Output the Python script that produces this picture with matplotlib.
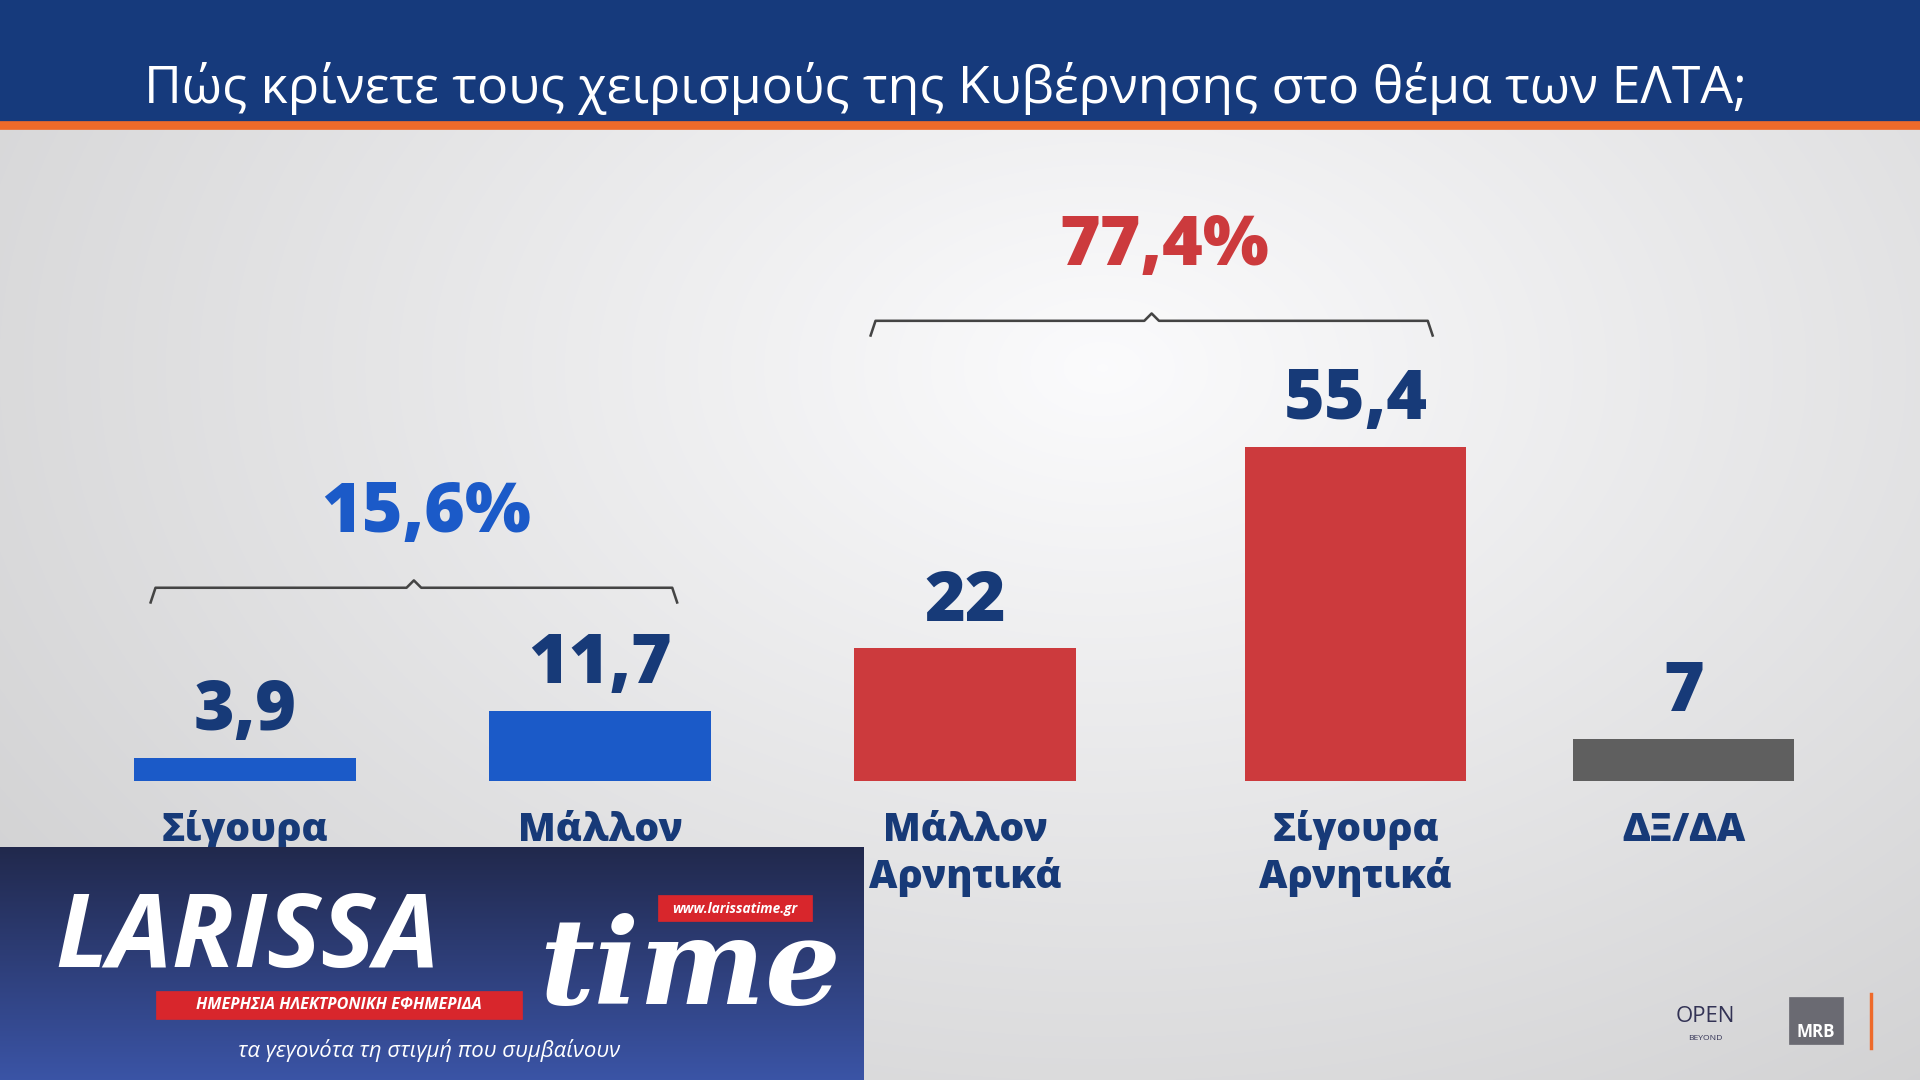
import numpy as np
import matplotlib.pyplot as plt
from matplotlib.patches import Rectangle

categories = [["Σίγουρα"], ["Μάλλον"], ["Μάλλον", "Αρνητικά"], ["Σίγουρα", "Αρνητικά"], ["ΔΞ/ΔΑ"]]
values = [3.9, 11.7, 22, 55.4, 7]
value_labels = ["3,9", "11,7", "22", "55,4", "7"]
colors = ["#1b5ac8", "#1b5ac8", "#cc3a3d", "#cc3a3d", "#5f5f5f"]
centers = [200, 490, 788, 1107, 1375]
groups = [("15,6%", 0, 1, "#1b5ac8", 480), ("77,4%", 2, 3, "#cc3a3d", 262)]
title = "Πώς κρίνετε τους χειρισμούς της Κυβέρνησης στο θέμα των ΕΛΤΑ;"

W, H = 1568, 882
dpi = 1920 / 15.68
fig = plt.figure(figsize=(15.68, 8.82), dpi=dpi)
plt.rcParams['font.family'] = ['Open Sans', 'DejaVu Sans']

# background
bg = fig.add_axes([0, 0, 1, 1])
yy, xx = np.mgrid[0:H, 0:W]
r = np.sqrt(((xx - 900) / 900) ** 2 + ((yy - 300) / 600) ** 2)
shade = np.clip(0.985 - 0.13 * r, 0.8, 0.985)
bg.imshow(np.dstack([shade, shade, shade + 0.005]).clip(0, 1), extent=[0, W, H, 0], aspect='auto')
bg.set_xlim(0, W); bg.set_ylim(H, 0); bg.axis('off')
bg.add_patch(Rectangle((0, 0), W, 100, color="#163a7c"))
bg.add_patch(Rectangle((0, 100), W, 5, color="#ee6a2a"))
bg.text(W / 2 - 12, 84, title, color="white", fontsize=30.5, ha='center', va='baseline')

# bars in value units, baseline at y=638 px
px_per_unit = 4.93
base, top = 638, 110
ax = fig.add_axes([0, 1 - base / H, 1, (base - top) / H])
ax.set_xlim(0, W)
ax.set_ylim(0, (base - top) / px_per_unit)
ax.axis('off')
ax.bar(centers, values, width=181, color=colors)
for c, v, lab in zip(centers, values, value_labels):
    ax.text(c, v + 1.8, lab, color="#173a78", fontsize=41, fontweight='heavy', ha='center', va='bottom')

for c, lines in zip(centers, categories):
    for k, line in enumerate(lines):
        bg.text(c, 678 + 38 * k, line, color="#173a78", fontsize=23, fontweight='heavy', ha='center', va='center')

# braces
for lab, i0, i1, col, y in groups:
    x0, x1 = centers[i0] - 77, centers[i1] + 63
    xm = (x0 + x1) / 2
    bg.plot([x0, x0 + 4, xm - 6, xm, xm + 6, x1 - 4, x1],
            [y + 12, y, y, y - 6, y, y, y + 12], color="#444444", lw=1.5)
    bg.text(xm + 10, y - 60, lab, color=col, fontsize=41, fontweight='heavy', ha='center', va='center')

# logo overlay
logo = np.linspace(0, 1, 190)[:, None] * np.ones((1, 705))
cmap_img = np.dstack([0.13 + 0.1 * logo, 0.16 + 0.17 * logo, 0.3 + 0.35 * logo])
bg.imshow(cmap_img, extent=[0, 705, 882, 692], aspect='auto', zorder=3)
bg.text(45, 790, "LARISSA", color="white", fontsize=60, fontweight='bold', style='italic', zorder=4, va='baseline')
bg.text(440, 820, "time", color="white", fontsize=70, fontweight='bold', style='italic', zorder=4, va='baseline',
        family='DejaVu Serif')
bg.add_patch(Rectangle((128, 810), 298, 22, color="#d8262c", zorder=4))
bg.text(277, 821, "ΗΜΕΡΗΣΙΑ ΗΛΕΚΤΡΟΝΙΚΗ ΕΦΗΜΕΡΙΔΑ", color="white", fontsize=9.5, fontweight='bold',
        style='italic', ha='center', va='center', zorder=5)
bg.add_patch(Rectangle((538, 732), 125, 20, color="#d8262c", zorder=4))
bg.text(600, 742, "www.larissatime.gr", color="white", fontsize=8, fontweight='bold', style='italic',
        ha='center', va='center', zorder=5)
bg.text(350, 858, "τα γεγονότα τη στιγμή που συμβαίνουν", color="white", fontsize=13, style='italic',
        ha='center', va='center', zorder=4)

# broadcaster marks
bg.text(1393, 830, "OPEN", color="#333355", fontsize=13, ha='center', va='center')
bg.text(1393, 848, "BEYOND", color="#333355", fontsize=5, ha='center', va='center')
bg.add_patch(Rectangle((1462, 815), 43, 38, color="#6a6a72"))
bg.text(1483, 843, "MRB", color="white", fontsize=10, fontweight='bold', ha='center', va='center')
bg.plot([1528, 1528], [812, 856], color="#ee6a2a", lw=2)

fig.savefig("out.png", dpi=dpi)
